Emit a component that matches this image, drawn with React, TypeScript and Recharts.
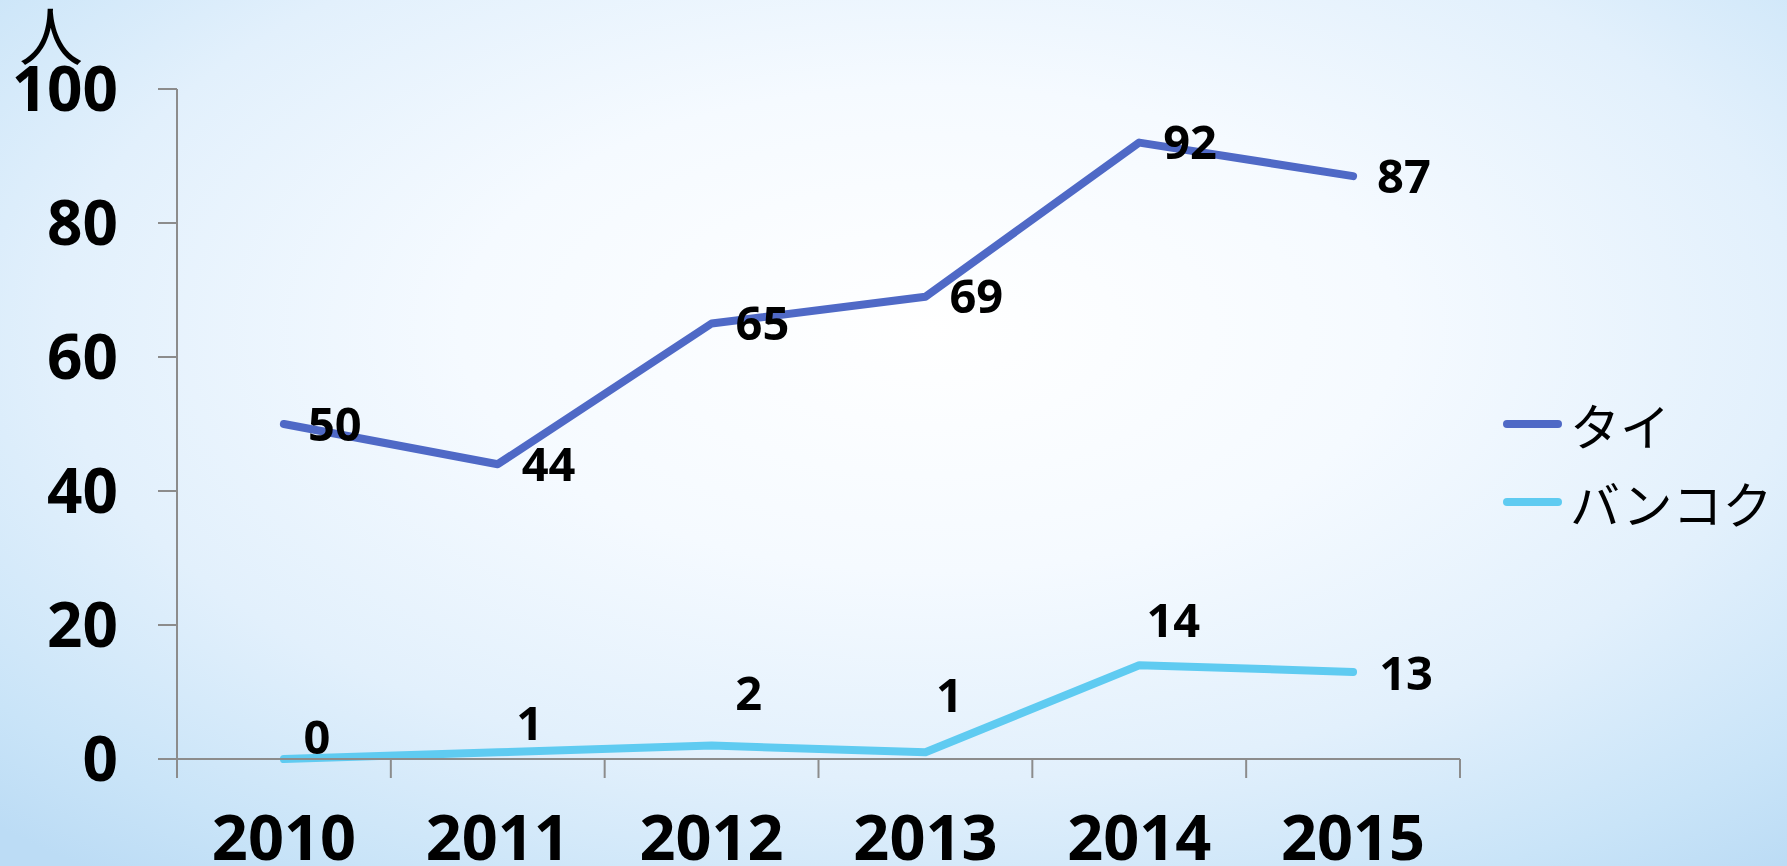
import React from "react";
import {
  LineChart, Line, XAxis, YAxis, LabelList, Legend,
} from "recharts";

// values
const YEARS = ["2010", "2011", "2012", "2013", "2014", "2015"];
const THAI = [50, 44, 65, 69, 92, 87];
const BANGKOK = [0, 1, 2, 1, 14, 13];
const Y_TICKS = [0, 20, 40, 60, 80, 100];
const SERIES_NAMES = ["タイ", "バンコク"];

// label nudges for the Bangkok series (centre offset from the point, px)
const BKK_LABEL_OFFSETS: [number, number][] = [
  [33, -23], [32, -30], [37, -54], [24, -58], [34, -46], [53, 0],
];

const W = 1787;
const H = 866;
const MARGIN = { top: 89, right: 327, bottom: 0, left: 0 };
const Y_AXIS_W = 177;
const X_AXIS_H = 107;
const PLOT_W = W - MARGIN.left - MARGIN.right - Y_AXIS_W;
const BAND = PLOT_W / YEARS.length;

const THAI_COLOR = "#4f69c6";
const BKK_COLOR = "#5fcbf1";
const AXIS_COLOR = "#8c8c8c";
const NUM_FONT = "'Open Sans', 'Noto Sans', sans-serif";
const JP_FONT = "'Noto Sans CJK JP', sans-serif";

const data = YEARS.map((year, i) => ({
  year,
  thai: THAI[i],
  bangkok: BANGKOK[i],
}));

const TICK_LEN = 19;
const X_TICK_GAP = 37;

function YearTick(props: any) {
  const { x, y, payload, index } = props;
  const axisY = y - TICK_LEN - X_TICK_GAP;
  const left = x - BAND / 2;
  const right = x + BAND / 2;
  return (
    <g>
      <line x1={left} x2={left} y1={axisY} y2={axisY + TICK_LEN} stroke={AXIS_COLOR} strokeWidth={2} />
      {index === YEARS.length - 1 && (
        <line x1={right} x2={right} y1={axisY} y2={axisY + TICK_LEN} stroke={AXIS_COLOR} strokeWidth={2} />
      )}
      <text
        x={x}
        y={y}
        dy="0.71em"
        textAnchor="middle"
        fontFamily={NUM_FONT}
        fontWeight={700}
        fontSize={63}
        fill="#000"
      >
        {payload.value}
      </text>
    </g>
  );
}

function BangkokLabel(props: any) {
  const { x, y, value, index } = props;
  const [dx, dy] = BKK_LABEL_OFFSETS[index] ?? [0, -30];
  return (
    <text
      x={x + dx}
      y={y + dy}
      textAnchor="middle"
      dominantBaseline="central"
      fontFamily={NUM_FONT}
      fontWeight={700}
      fontSize={47}
      fill="#000"
    >
      {value}
    </text>
  );
}

function LegendBox() {
  const colors = [THAI_COLOR, BKK_COLOR];
  return (
    <div>
      {SERIES_NAMES.map((name, i) => (
        <div key={name} style={{ display: "flex", alignItems: "center", height: 78 }}>
          <svg width={67} height={12}>
            <line x1={8} x2={59} y1={6} y2={6} stroke={colors[i]} strokeWidth={8} strokeLinecap="round" />
          </svg>
          <span style={{ marginLeft: 4, fontFamily: JP_FONT, fontSize: 50, lineHeight: "78px", color: "#000" }}>
            {name}
          </span>
        </div>
      ))}
    </div>
  );
}

export default function App() {
  return (
    <div
      style={{
        position: "fixed",
        left: 0,
        top: 0,
        width: W,
        height: H,
        overflow: "hidden",
        background:
          "radial-gradient(ellipse 75% 80% at 52% 38%, #ffffff 0%, #f5faff 35%, #e2f0fc 65%, #c9e4f8 88%, #bcdcf5 100%)",
      }}
    >
      {/* unit label */}
      <div
        style={{
          position: "absolute",
          left: 19,
          top: 0,
          fontFamily: JP_FONT,
          fontSize: 64,
          lineHeight: 1,
          color: "#000",
        }}
      >
        人
      </div>
      <LineChart width={W} height={H} data={data} margin={MARGIN}>
        <XAxis
          dataKey="year"
          scale="band"
          height={X_AXIS_H}
          axisLine={{ stroke: AXIS_COLOR, strokeWidth: 2 }}
          tickLine={false}
          tickSize={TICK_LEN}
          tickMargin={X_TICK_GAP}
          tick={<YearTick />}
          interval={0}
        />
        <YAxis
          domain={[0, 100]}
          ticks={Y_TICKS}
          width={Y_AXIS_W}
          axisLine={{ stroke: AXIS_COLOR, strokeWidth: 2 }}
          tickLine={{ stroke: AXIS_COLOR, strokeWidth: 2 }}
          tickSize={TICK_LEN}
          tickMargin={40}
          tick={{ fill: "#000", fontFamily: NUM_FONT, fontWeight: 700, fontSize: 62 }}
        />
        <Legend
          layout="horizontal"
          verticalAlign="middle"
          align="center"
          wrapperStyle={{ left: 1499, top: 385, width: 290 }}
          content={<LegendBox />}
        />
        <Line
          type="linear"
          dataKey="thai"
          name={SERIES_NAMES[0]}
          stroke={THAI_COLOR}
          strokeWidth={8}
          strokeLinecap="round"
          strokeLinejoin="round"
          dot={false}
          isAnimationActive={false}
        >
          <LabelList
            dataKey="thai"
            position="right"
            offset={24}
            fill="#000"
            fontFamily={NUM_FONT}
            fontWeight={700}
            fontSize={47}
          />
        </Line>
        <Line
          type="linear"
          dataKey="bangkok"
          name={SERIES_NAMES[1]}
          stroke={BKK_COLOR}
          strokeWidth={8}
          strokeLinecap="round"
          strokeLinejoin="round"
          dot={false}
          isAnimationActive={false}
        >
          <LabelList dataKey="bangkok" content={<BangkokLabel />} />
        </Line>
      </LineChart>
    </div>
  );
}
